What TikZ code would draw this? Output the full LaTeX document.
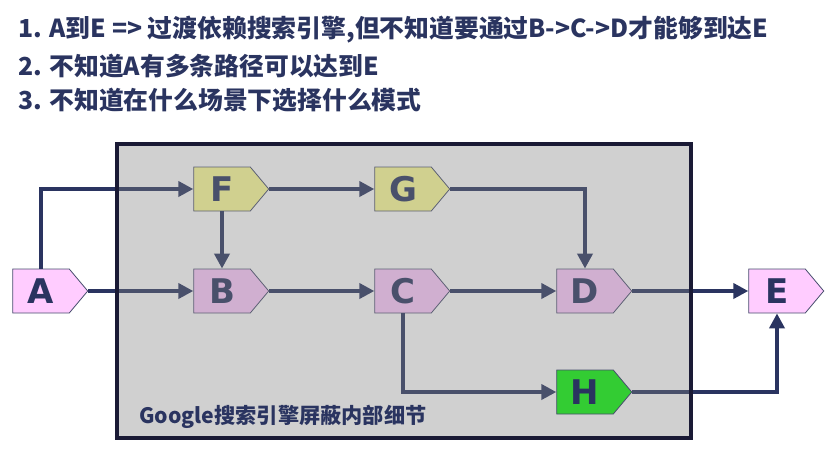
\documentclass[tikz,border=0pt]{standalone}
\usepackage{fontspec}
\newfontfamily\cjk{Noto Sans CJK SC}
\newfontfamily\lettersf{DejaVu Sans}
\usepackage{tikz}
\usetikzlibrary{shapes.symbols,arrows.meta,calc}

\definecolor{navy}{RGB}{42,52,96}
\definecolor{edgecol}{RGB}{72,78,110}
\definecolor{boxedge}{RGB}{26,26,53}
\definecolor{pinkbox}{RGB}{255,204,255}
\definecolor{yellowbox}{RGB}{255,255,153}
\definecolor{greenbox}{RGB}{51,204,51}
\definecolor{veilgray}{RGB}{128,128,128}

\pgfdeclarelayer{front}
\pgfsetlayers{main,front}

\begin{document}
\begin{tikzpicture}[x=1pt,y=-1pt,
  block/.style={signal, signal to=east, signal pointer angle=100, draw=edgecol, line width=0.8pt,
    minimum height=44pt, minimum width=75pt, inner sep=0pt, text=navy,
    font={\lettersf\bfseries\fontsize{34}{34}\selectfont}},
  link/.style={draw=navy, line width=4pt, -{Triangle[length=15pt,width=15pt]}},
  title/.style={anchor=west, inner sep=0pt, text=navy, font={\cjk\bfseries\fontsize{24.8}{28}\selectfont}}]

\useasboundingbox (0,0) rectangle (836,456);

\node[title] (t1) at (18,30) {1. A到E => 过渡依赖搜索引擎,但不知道要通过B->C->D才能够到达E};
\node[title] (t2) at (18,66) {2. 不知道A有多条路径可以达到E};
\node[title] (t3) at (18,100) {3. 不知道在什么场景下选择什么模式};

\node[block, fill=pinkbox] (A) at (41,291) {A};
\node[block, fill=yellowbox] (F) at (222,189) {F};
\node[block, fill=pinkbox] (B) at (222,291) {B};
\node[block, fill=yellowbox] (G) at (403,189) {G};
\node[block, fill=pinkbox] (C) at (403,291) {C};
\node[block, fill=pinkbox] (D) at (585,291) {D};
\node[block, fill=pinkbox] (E) at (777,291) {E};

\begin{pgfonlayer}{front}
\node[block, fill=greenbox] (H) at (585,392) {H};
\end{pgfonlayer}

\draw[link] (A.east) -- (B.west);
\draw[link] (A.north) |- (F.west);
\draw[link] (F.south) -- (B.north);
\draw[link] (F.east) -- (G.west);
\draw[link] (G.east) -| (D.north);
\draw[link] (B.east) -- (C.west);
\draw[link] (C.east) -- (D.west);
\draw[link] (D.east) -- (E.west);
\draw[link] (C.south) |- (H.west);
\draw[link] (H.east) -| (E.south);

% the search engine hides what is inside
\fill[veilgray, fill opacity=0.37] (117,144) rectangle (691,438);
\draw[boxedge, line width=4.5pt] (117,144) rectangle (691,438);

\begin{pgfonlayer}{front}
\node[anchor=west, inner sep=0pt, text=navy, font={\cjk\bfseries\fontsize{21.2}{24}\selectfont}] (hidden) at (139,417) {Google搜索引擎屏蔽内部细节};
\end{pgfonlayer}

\end{tikzpicture}
\end{document}
